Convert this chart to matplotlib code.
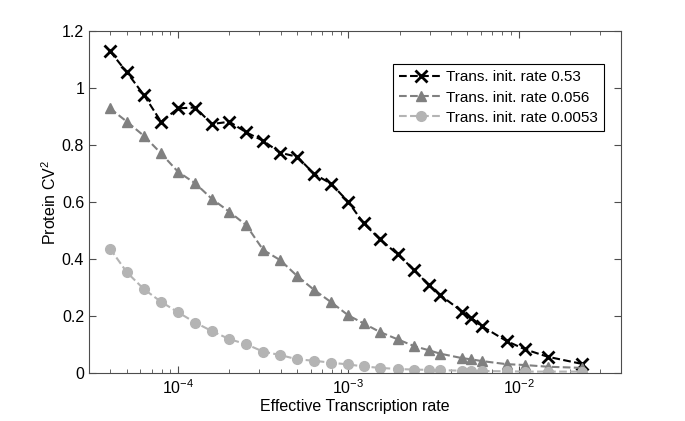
import numpy as np
import matplotlib
matplotlib.use('Agg')
import matplotlib.pyplot as plt
from matplotlib.ticker import LogLocator, FixedLocator, FuncFormatter

plt.rcParams['font.family'] = ['Liberation Sans', 'DejaVu Sans']
plt.rcParams['mathtext.default'] = 'regular'

# effective transcription rate (shared by all three curves)
rate = [3.98e-5, 5.01e-5, 6.31e-5, 7.94e-5, 1.0e-4, 1.26e-4, 1.58e-4, 2.0e-4,
        2.51e-4, 3.16e-4, 3.98e-4, 5.01e-4, 6.31e-4, 7.94e-4, 1.0e-3,
        1.23e-3, 1.53e-3, 1.95e-3, 2.44e-3, 2.96e-3, 3.45e-3, 4.67e-3,
        5.26e-3, 6.05e-3, 8.49e-3, 1.09e-2, 1.48e-2, 2.35e-2]

cv_053 = [1.13, 1.055, 0.975, 0.882, 0.929, 0.932, 0.874, 0.882, 0.845, 0.815,
          0.773, 0.759, 0.698, 0.664, 0.600, 0.525, 0.470, 0.416, 0.361, 0.309,
          0.274, 0.215, 0.194, 0.165, 0.112, 0.083, 0.057, 0.032]
cv_0056 = [0.929, 0.882, 0.832, 0.771, 0.706, 0.666, 0.611, 0.566, 0.519, 0.432,
           0.396, 0.340, 0.291, 0.248, 0.202, 0.174, 0.144, 0.118, 0.094, 0.080,
           0.068, 0.052, 0.048, 0.042, 0.031, 0.028, 0.022, 0.018]
cv_00053 = [0.437, 0.353, 0.294, 0.250, 0.213, 0.177, 0.147, 0.119, 0.101, 0.075,
            0.063, 0.048, 0.043, 0.036, 0.030, 0.023, 0.018, 0.014, 0.012, 0.011,
            0.010, 0.008, 0.008, 0.007, 0.006, 0.005, 0.005, 0.005]

labels = ['Trans. init. rate 0.53', 'Trans. init. rate 0.056', 'Trans. init. rate 0.0053']

fs = 11.5

fig = plt.figure(figsize=(6.85, 4.21), dpi=100)
ax = fig.add_axes([0.130, 0.114, 0.777, 0.812])

ax.plot(rate, cv_053, '--x', color='black', lw=1.5, ms=8, mew=2, label=labels[0])
ax.plot(rate, cv_0056, '--^', color='#808080', mec='#808080', lw=1.5, ms=7, label=labels[1])
ax.plot(rate, cv_00053, '--o', color='#b4b4b4', mec='#b4b4b4', lw=1.5, ms=7, label=labels[2])

ax.set_xscale('log')
ax.set_xlim(3e-5, 4e-2)
ax.set_ylim(0, 1.2)
ax.yaxis.set_major_locator(FixedLocator([0, 0.2, 0.4, 0.6, 0.8, 1.0, 1.2]))
ax.yaxis.set_major_formatter(FuncFormatter(lambda v, p: '%g' % v))
ax.xaxis.set_major_locator(LogLocator(base=10, numticks=10))
ax.xaxis.set_minor_locator(LogLocator(base=10, subs=np.arange(2, 10), numticks=10))

ax.tick_params(which='both', direction='in', top=True, right=True,
               labelsize=fs, color='0.3')
ax.tick_params(which='major', length=5)
ax.tick_params(which='minor', length=3)
for s in ax.spines.values():
    s.set_color('0.3')

ax.set_xlabel('Effective Transcription rate', fontsize=fs, labelpad=2)
ax.set_ylabel('Protein CV$^2$', fontsize=fs, labelpad=2)

leg = ax.legend(loc='upper right', bbox_to_anchor=(0.968, 0.903), fontsize=11,
                fancybox=False, edgecolor='black', framealpha=1,
                handlelength=2.9, handletextpad=0.2, borderpad=0.4,
                labelspacing=0.4, borderaxespad=0)
leg.get_frame().set_linewidth(0.8)

fig.savefig('out.png', dpi=100)
